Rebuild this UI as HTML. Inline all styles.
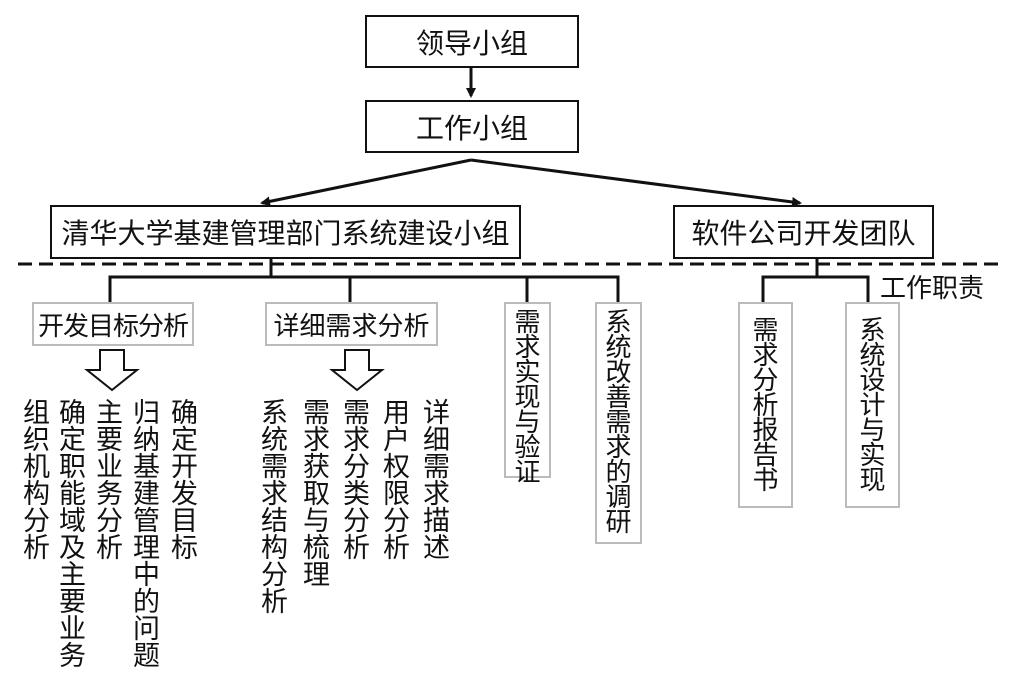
<!DOCTYPE html>
<html><head><meta charset="utf-8"><style>
body{margin:0;width:1024px;height:690px;background:#fff;position:relative;overflow:hidden;font-family:"Liberation Sans","Noto Sans CJK SC",sans-serif;color:#111}
.b{position:absolute;border:2.5px solid #111;box-sizing:border-box;display:flex;align-items:center;justify-content:center;font-size:28px;background:#fff;white-space:nowrap}
.g{position:absolute;border:2px solid #bbb;box-sizing:border-box;background:#fff;font-size:26px;display:flex;justify-content:center;white-space:nowrap}
.v{position:absolute;width:1em;font-size:27px;line-height:27px;text-align:center;word-break:break-all}
.gv{width:1em;line-height:25px;text-align:center;word-break:break-all;white-space:normal;margin-top:6px;font-size:26px}
</style></head><body>
<svg width="1024" height="690" style="position:absolute;left:0;top:0">
<defs><marker id="a" markerWidth="10" markerHeight="10" refX="8" refY="5" orient="auto" markerUnits="userSpaceOnUse"><path d="M0,0L10,5L0,10z" fill="#111"/></marker></defs>
<g stroke="#111" stroke-width="3" fill="none">
<line x1="471" y1="68" x2="471" y2="96" marker-end="url(#a)"/>
<line x1="471" y1="160" x2="262" y2="203" marker-end="url(#a)"/>
<line x1="471" y1="160" x2="800" y2="203" marker-end="url(#a)"/>
<line x1="18" y1="264" x2="1000" y2="264" stroke-dasharray="14,7"/>
<polyline points="271,258 271,277"/>
<polyline points="110,302 110,277 618,277 618,302"/>
<line x1="350" y1="277" x2="350" y2="302"/>
<line x1="527" y1="277" x2="527" y2="302"/>
<polyline points="817,258 817,277"/>
<polyline points="763,302 763,277 868,277 868,302"/>
</g>
<g stroke="#111" stroke-width="2" fill="#fff">
<path d="M100,350 H124 V370 H137 L112,390 L87,370 H100 Z"/>
<path d="M345,350 H369 V370 H382 L357,390 L332,370 H345 Z"/>
</g>
</svg>
<div class="b" style="left:365px;top:15px;width:214px;height:53px">领导小组</div>
<div class="b" style="left:365px;top:100px;width:214px;height:53px">工作小组</div>
<div class="b" style="left:50px;top:205px;width:471px;height:54px">清华大学基建管理部门系统建设小组</div>
<div class="b" style="left:673px;top:205px;width:261px;height:54px">软件公司开发团队</div>
<div style="position:absolute;left:880px;top:268px;font-size:26px">工作职责</div>
<div class="g" style="left:32px;top:302px;width:162px;height:44px;align-items:center;letter-spacing:-1px">开发目标分析</div>
<div class="g" style="left:265px;top:302px;width:173px;height:44px;align-items:center">详细需求分析</div>
<div class="g" style="left:504px;top:302px;width:47px;height:176px"><div class="gv">需求实现与验证</div></div>
<div class="g" style="left:595px;top:302px;width:47px;height:242px"><div class="gv">系统改善需求的调研</div></div>
<div class="g" style="left:738px;top:302px;width:55px;height:206px"><div class="gv" style="margin-top:14px">需求分析报告书</div></div>
<div class="g" style="left:845px;top:302px;width:55px;height:206px"><div class="gv" style="margin-top:14px">系统设计与实现</div></div>
<div class="v" style="left:23px;top:400px">组织机构分析</div>
<div class="v" style="left:59px;top:400px">确定职能域及主要业务</div>
<div class="v" style="left:96px;top:400px">主要业务分析</div>
<div class="v" style="left:133px;top:400px">归纳基建管理中的问题</div>
<div class="v" style="left:171px;top:400px">确定开发目标</div>
<div class="v" style="left:261px;top:400px">系统需求结构分析</div>
<div class="v" style="left:303px;top:400px">需求获取与梳理</div>
<div class="v" style="left:343px;top:400px">需求分类分析</div>
<div class="v" style="left:383px;top:400px">用户权限分析</div>
<div class="v" style="left:423px;top:400px">详细需求描述</div>
</body></html>
